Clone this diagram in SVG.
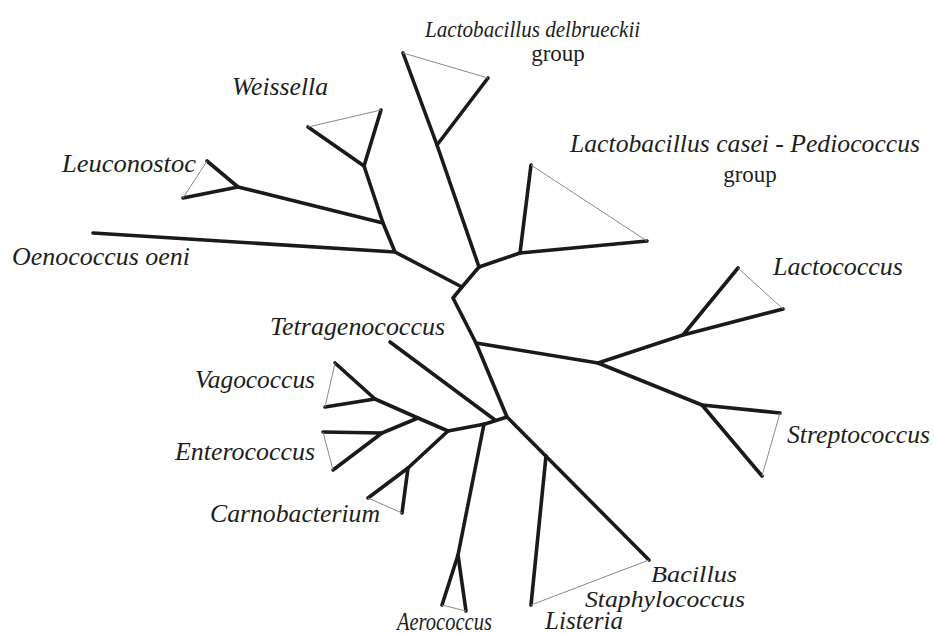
<svg xmlns="http://www.w3.org/2000/svg" width="934" height="634" viewBox="0 0 934 634">
<style>
.br{fill:none;stroke:#1a1a1a;stroke-width:3.6;stroke-linecap:round;stroke-linejoin:round}
.tri{fill:none;stroke:#8a8a8a;stroke-width:1}
.lb{font-family:"Liberation Serif","Times New Roman",serif;font-style:italic;font-size:25px;fill:#1e1e1e}
.xs{font-size:24px}
.gp{font-family:"Liberation Serif","Times New Roman",serif;font-size:23px;fill:#1e1e1e;text-anchor:middle}
</style>
<rect width="934" height="634" fill="#ffffff"/>
<g id="connectors">
<polyline class="br" points="479,267 462,287 453,298 476,343 507,417 649,560"/>
<polyline class="br" points="462,287 395,252 383,223 364,166"/>
<line class="br" x1="383" y1="223" x2="238" y2="187"/>
<polyline class="br" points="476,343 598,363 683,335"/>
<line class="br" x1="598" y1="363" x2="702" y2="405"/>
<polyline class="br" points="507,417 485,424 448,431 418,418 375,399"/>
<line class="br" x1="418" y1="418" x2="382" y2="433"/>
<line class="br" x1="448" y1="431" x2="408" y2="468"/>
<line class="br" x1="479" y1="267" x2="520" y2="253"/>
</g>
<g id="delbrueckii">
<polyline class="br" points="403,53 437,145 479,267"/>
<line class="br" x1="437" y1="145" x2="488" y2="78"/>
<line class="tri" x1="403" y1="53" x2="488" y2="78"/>
<text class="lb xs" transform="translate(425,37) scale(0.88,1)">Lactobacillus delbrueckii</text>
<text class="gp" x="558" y="61">group</text>
</g>
<g id="casei">
<polyline class="br" points="531,165 520,253 647,241"/>
<line class="tri" x1="531" y1="165" x2="647" y2="241"/>
<text class="lb" x="570" y="152" textLength="350" lengthAdjust="spacingAndGlyphs">Lactobacillus casei - Pediococcus</text>
<text class="gp" x="750" y="182">group</text>
</g>
<g id="weissella">
<polyline class="br" points="381,110 364,166 308,127"/>
<line class="tri" x1="308" y1="127" x2="381" y2="110"/>
<text class="lb" x="232" y="95" textLength="96" lengthAdjust="spacingAndGlyphs">Weissella</text>
</g>
<g id="leuconostoc">
<polyline class="br" points="207,161 238,187 183,198"/>
<line class="tri" x1="207" y1="161" x2="183" y2="198"/>
<text class="lb" x="62" y="172" textLength="134" lengthAdjust="spacingAndGlyphs">Leuconostoc</text>
</g>
<g id="oenococcus">
<line class="br" x1="395" y1="252" x2="93" y2="233"/>
<text class="lb" x="12" y="265" textLength="178" lengthAdjust="spacingAndGlyphs">Oenococcus oeni</text>
</g>
<g id="lactococcus">
<polyline class="br" points="738,268 683,335 783,309"/>
<line class="tri" x1="738" y1="268" x2="783" y2="309"/>
<text class="lb" x="773" y="275" textLength="130" lengthAdjust="spacingAndGlyphs">Lactococcus</text>
</g>
<g id="streptococcus">
<polyline class="br" points="780,413 702,405 762,476"/>
<line class="tri" x1="780" y1="413" x2="762" y2="476"/>
<text class="lb" x="787" y="443" textLength="143" lengthAdjust="spacingAndGlyphs">Streptococcus</text>
</g>
<g id="tetragenococcus">
<line class="br" x1="390" y1="342" x2="495" y2="420"/>
<text class="lb" x="270" y="335" textLength="175" lengthAdjust="spacingAndGlyphs">Tetragenococcus</text>
</g>
<g id="vagococcus">
<polyline class="br" points="335,363 375,399 325,407"/>
<line class="tri" x1="335" y1="363" x2="325" y2="407"/>
<text class="lb" x="195" y="388" textLength="120" lengthAdjust="spacingAndGlyphs">Vagococcus</text>
</g>
<g id="enterococcus">
<polyline class="br" points="323,432 382,433 333,470"/>
<line class="tri" x1="323" y1="432" x2="333" y2="470"/>
<text class="lb" x="175" y="460" textLength="140" lengthAdjust="spacingAndGlyphs">Enterococcus</text>
</g>
<g id="carnobacterium">
<polyline class="br" points="368,498 408,468 402,513"/>
<line class="tri" x1="368" y1="498" x2="402" y2="513"/>
<text class="lb" x="210" y="522" textLength="170" lengthAdjust="spacingAndGlyphs">Carnobacterium</text>
</g>
<g id="aerococcus">
<polyline class="br" points="484,424 458,555 442,605"/>
<line class="br" x1="458" y1="555" x2="466" y2="611"/>
<line class="tri" x1="442" y1="605" x2="466" y2="611"/>
<text class="lb" transform="translate(397,630) scale(0.82,1)">Aerococcus</text>
</g>
<g id="listeria">
<line class="br" x1="546" y1="456" x2="531" y2="605"/>
<line class="tri" x1="531" y1="605" x2="649" y2="560"/>
<text class="lb" x="545" y="629" textLength="78" lengthAdjust="spacingAndGlyphs">Listeria</text>
</g>
<g id="bacillus">
<text class="lb xs" x="651" y="582" textLength="86" lengthAdjust="spacingAndGlyphs">Bacillus</text>
<text class="lb xs" x="585" y="607" textLength="160" lengthAdjust="spacingAndGlyphs">Staphylococcus</text>
</g>
</svg>
